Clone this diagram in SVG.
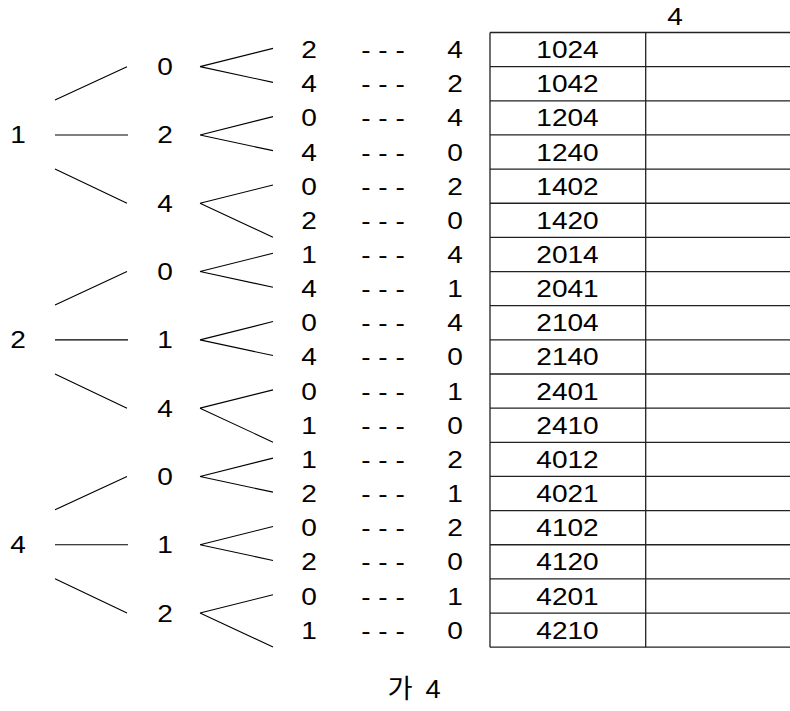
<svg xmlns="http://www.w3.org/2000/svg" width="790" height="711" viewBox="0 0 790 711">
  <style>
    text { font-family: "Liberation Sans", Arial, sans-serif; font-size: 23px; fill: #000; text-anchor: middle; }
    .ko { font-family: "Liberation Sans", "Noto Sans CJK KR", sans-serif; font-size: 26px; word-spacing: 5px; }
    .edge { stroke: #000; stroke-width: 1.1; fill: none; }
    .grid { stroke: #222; stroke-width: 1.3; fill: none; }
  </style>
  <rect width="790" height="711" fill="#fff"/>

  <!-- tree branches; every text is widened 1.22x via matrix(1.22 0 0 1 x y) -->
  <g id="connectors" class="edge">
    <!-- root 1 -->
    <path d="M55,100 L127,66.65 M55,134.95 L128,134.95 M55,169 L127,203.25"/>
    <path d="M200,66.65 L273,48.35 M200,66.65 L273,82.35"/>
    <path d="M200,134.95 L273,116.65 M200,134.95 L273,150.65"/>
    <path d="M200,203.25 L273,184.95 M200,203.25 L273,237.25"/>
    <!-- root 2 -->
    <path d="M55,304.9 L127,271.55 M55,339.85 L128,339.85 M55,373.9 L127,408.15"/>
    <path d="M200,271.55 L273,253.25 M200,271.55 L273,287.25"/>
    <path d="M200,339.85 L273,321.55 M200,339.85 L273,355.55"/>
    <path d="M200,408.15 L273,389.85 M200,408.15 L273,442.15"/>
    <!-- root 4 -->
    <path d="M55,509.8 L127,476.45 M55,544.75 L128,544.75 M55,578.8 L127,613.05"/>
    <path d="M200,476.45 L273,458.15 M200,476.45 L273,492.15"/>
    <path d="M200,544.75 L273,526.45 M200,544.75 L273,560.45"/>
    <path d="M200,613.05 L273,594.75 M200,613.05 L273,647.05"/>
  </g>

  <!-- first digit -->
  <g id="root-1"><text transform="matrix(1.22 0 0 1 18 143.3)">1</text></g>
  <g id="root-2"><text transform="matrix(1.22 0 0 1 18 348.2)">2</text></g>
  <g id="root-4"><text transform="matrix(1.22 0 0 1 18 553.1)">4</text></g>

  <!-- second digit -->
  <g id="n-1-0"><text transform="matrix(1.22 0 0 1 165 75.2)">0</text></g>
  <g id="n-1-2"><text transform="matrix(1.22 0 0 1 165 143.3)">2</text></g>
  <g id="n-1-4"><text transform="matrix(1.22 0 0 1 165 211.7)">4</text></g>
  <g id="n-2-0"><text transform="matrix(1.22 0 0 1 165 280.0)">0</text></g>
  <g id="n-2-1"><text transform="matrix(1.22 0 0 1 165 348.2)">1</text></g>
  <g id="n-2-4"><text transform="matrix(1.22 0 0 1 165 416.6)">4</text></g>
  <g id="n-4-0"><text transform="matrix(1.22 0 0 1 165 484.9)">0</text></g>
  <g id="n-4-1"><text transform="matrix(1.22 0 0 1 165 553.1)">1</text></g>
  <g id="n-4-2"><text transform="matrix(1.22 0 0 1 165 621.5)">2</text></g>

  <!-- third and fourth digits -->
  <g id="leaves">
    <g id="leaf-1024"><text transform="matrix(1.22 0 0 1 309 58.1)">2</text><text transform="matrix(1.22 0 0 1 383 58.1)">- - -</text><text transform="matrix(1.22 0 0 1 455 58.1)">4</text></g>
    <g id="leaf-1042"><text transform="matrix(1.22 0 0 1 309 92.2)">4</text><text transform="matrix(1.22 0 0 1 383 92.2)">- - -</text><text transform="matrix(1.22 0 0 1 455 92.2)">2</text></g>
    <g id="leaf-1204"><text transform="matrix(1.22 0 0 1 309 126.4)">0</text><text transform="matrix(1.22 0 0 1 383 126.4)">- - -</text><text transform="matrix(1.22 0 0 1 455 126.4)">4</text></g>
    <g id="leaf-1240"><text transform="matrix(1.22 0 0 1 309 160.5)">4</text><text transform="matrix(1.22 0 0 1 383 160.5)">- - -</text><text transform="matrix(1.22 0 0 1 455 160.5)">0</text></g>
    <g id="leaf-1402"><text transform="matrix(1.22 0 0 1 309 194.7)">0</text><text transform="matrix(1.22 0 0 1 383 194.7)">- - -</text><text transform="matrix(1.22 0 0 1 455 194.7)">2</text></g>
    <g id="leaf-1420"><text transform="matrix(1.22 0 0 1 309 228.8)">2</text><text transform="matrix(1.22 0 0 1 383 228.8)">- - -</text><text transform="matrix(1.22 0 0 1 455 228.8)">0</text></g>
    <g id="leaf-2014"><text transform="matrix(1.22 0 0 1 309 263.0)">1</text><text transform="matrix(1.22 0 0 1 383 263.0)">- - -</text><text transform="matrix(1.22 0 0 1 455 263.0)">4</text></g>
    <g id="leaf-2041"><text transform="matrix(1.22 0 0 1 309 297.1)">4</text><text transform="matrix(1.22 0 0 1 383 297.1)">- - -</text><text transform="matrix(1.22 0 0 1 455 297.1)">1</text></g>
    <g id="leaf-2104"><text transform="matrix(1.22 0 0 1 309 331.3)">0</text><text transform="matrix(1.22 0 0 1 383 331.3)">- - -</text><text transform="matrix(1.22 0 0 1 455 331.3)">4</text></g>
    <g id="leaf-2140"><text transform="matrix(1.22 0 0 1 309 365.4)">4</text><text transform="matrix(1.22 0 0 1 383 365.4)">- - -</text><text transform="matrix(1.22 0 0 1 455 365.4)">0</text></g>
    <g id="leaf-2401"><text transform="matrix(1.22 0 0 1 309 399.6)">0</text><text transform="matrix(1.22 0 0 1 383 399.6)">- - -</text><text transform="matrix(1.22 0 0 1 455 399.6)">1</text></g>
    <g id="leaf-2410"><text transform="matrix(1.22 0 0 1 309 433.7)">1</text><text transform="matrix(1.22 0 0 1 383 433.7)">- - -</text><text transform="matrix(1.22 0 0 1 455 433.7)">0</text></g>
    <g id="leaf-4012"><text transform="matrix(1.22 0 0 1 309 467.9)">1</text><text transform="matrix(1.22 0 0 1 383 467.9)">- - -</text><text transform="matrix(1.22 0 0 1 455 467.9)">2</text></g>
    <g id="leaf-4021"><text transform="matrix(1.22 0 0 1 309 502.0)">2</text><text transform="matrix(1.22 0 0 1 383 502.0)">- - -</text><text transform="matrix(1.22 0 0 1 455 502.0)">1</text></g>
    <g id="leaf-4102"><text transform="matrix(1.22 0 0 1 309 536.2)">0</text><text transform="matrix(1.22 0 0 1 383 536.2)">- - -</text><text transform="matrix(1.22 0 0 1 455 536.2)">2</text></g>
    <g id="leaf-4120"><text transform="matrix(1.22 0 0 1 309 570.3)">2</text><text transform="matrix(1.22 0 0 1 383 570.3)">- - -</text><text transform="matrix(1.22 0 0 1 455 570.3)">0</text></g>
    <g id="leaf-4201"><text transform="matrix(1.22 0 0 1 309 604.5)">0</text><text transform="matrix(1.22 0 0 1 383 604.5)">- - -</text><text transform="matrix(1.22 0 0 1 455 604.5)">1</text></g>
    <g id="leaf-4210"><text transform="matrix(1.22 0 0 1 309 638.6)">1</text><text transform="matrix(1.22 0 0 1 383 638.6)">- - -</text><text transform="matrix(1.22 0 0 1 455 638.6)">0</text></g>
  </g>

  <!-- result table -->
  <g id="table">
    <text transform="matrix(1.22 0 0 1 675 25)">4</text>
    <path class="grid" d="M490,32.5 V647.2 M645.7,32.5 V647.2"/>
    <path class="grid" d="M490,32.5 H790 M490,66.65 H790 M490,100.8 H790 M490,134.95 H790 M490,169.1 H790 M490,203.25 H790 M490,237.4 H790 M490,271.55 H790 M490,305.7 H790 M490,339.85 H790 M490,374 H790 M490,408.15 H790 M490,442.3 H790 M490,476.45 H790 M490,510.6 H790 M490,544.75 H790 M490,578.9 H790 M490,613.05 H790 M490,647.2 H790"/>
    <text transform="matrix(1.22 0 0 1 567.5 58.1)">1024</text>
    <text transform="matrix(1.22 0 0 1 567.5 92.2)">1042</text>
    <text transform="matrix(1.22 0 0 1 567.5 126.4)">1204</text>
    <text transform="matrix(1.22 0 0 1 567.5 160.5)">1240</text>
    <text transform="matrix(1.22 0 0 1 567.5 194.7)">1402</text>
    <text transform="matrix(1.22 0 0 1 567.5 228.8)">1420</text>
    <text transform="matrix(1.22 0 0 1 567.5 263.0)">2014</text>
    <text transform="matrix(1.22 0 0 1 567.5 297.1)">2041</text>
    <text transform="matrix(1.22 0 0 1 567.5 331.3)">2104</text>
    <text transform="matrix(1.22 0 0 1 567.5 365.4)">2140</text>
    <text transform="matrix(1.22 0 0 1 567.5 399.6)">2401</text>
    <text transform="matrix(1.22 0 0 1 567.5 433.7)">2410</text>
    <text transform="matrix(1.22 0 0 1 567.5 467.9)">4012</text>
    <text transform="matrix(1.22 0 0 1 567.5 502.0)">4021</text>
    <text transform="matrix(1.22 0 0 1 567.5 536.2)">4102</text>
    <text transform="matrix(1.22 0 0 1 567.5 570.3)">4120</text>
    <text transform="matrix(1.22 0 0 1 567.5 604.5)">4201</text>
    <text transform="matrix(1.22 0 0 1 567.5 638.6)">4210</text>
  </g>

  <!-- caption -->
  <g id="caption"><text class="ko" transform="matrix(1.05 0 0 1 414 698)">가 4</text></g>
</svg>
